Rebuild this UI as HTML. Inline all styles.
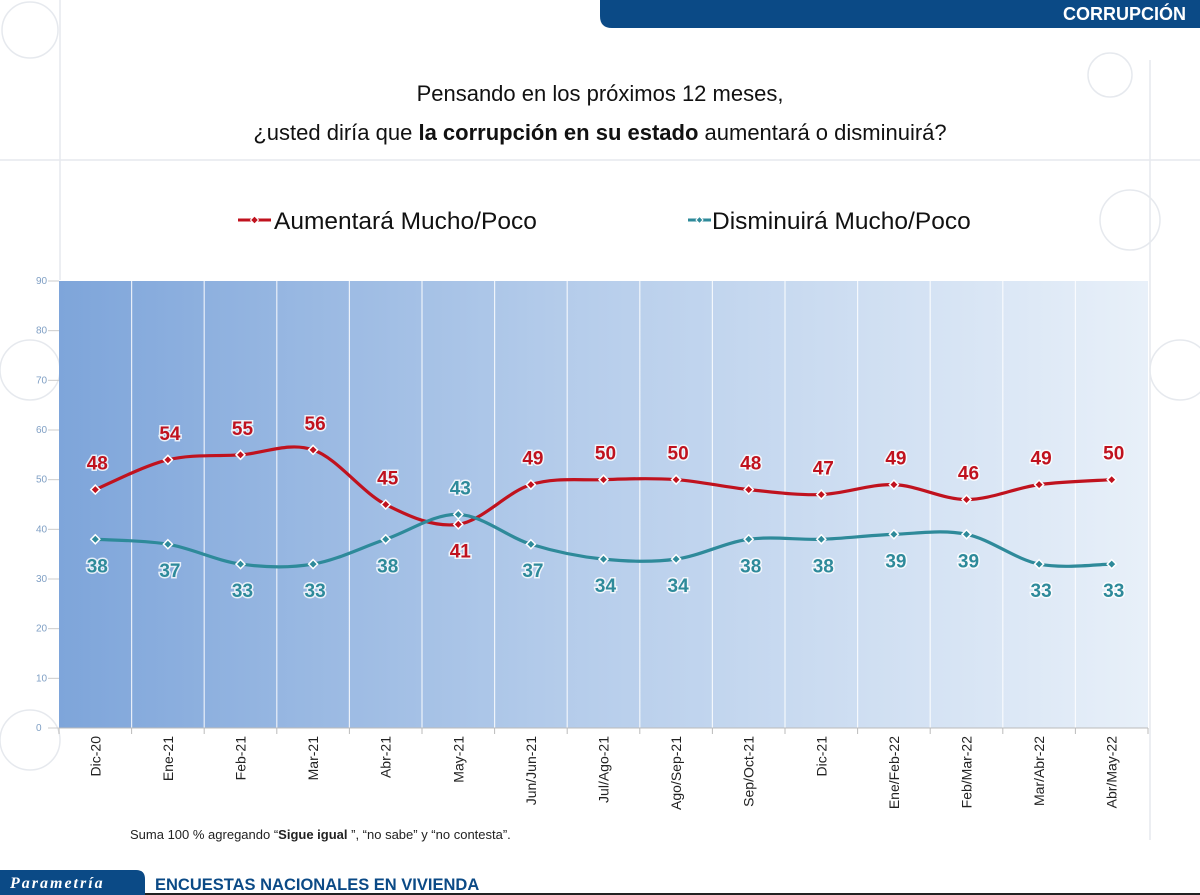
<!DOCTYPE html>
<html><head><meta charset="utf-8"><style>
body{margin:0;width:1200px;height:895px;overflow:hidden;background:#fff;font-family:"Liberation Sans",sans-serif;position:relative}
</style></head><body>
<svg id="s" width="1200" height="895" xmlns="http://www.w3.org/2000/svg" style="position:absolute;left:0;top:0">
<defs>
<linearGradient id="g" x1="0" x2="1" y1="0" y2="0">
<stop offset="0" stop-color="#7ea5da"/><stop offset="0.45" stop-color="#b3cbea"/><stop offset="1" stop-color="#e8f0f9"/>
</linearGradient>
</defs>
<g stroke="#e6e9ee" stroke-width="1.5" fill="none">
<circle cx="30" cy="30" r="28"/><circle cx="1110" cy="75" r="22"/><circle cx="30" cy="370" r="30"/><circle cx="1130" cy="220" r="30"/><circle cx="30" cy="740" r="30"/><circle cx="1180" cy="370" r="30"/>
<line x1="0" y1="160" x2="1200" y2="160"/><line x1="60" y1="0" x2="60" y2="280"/><line x1="1150" y1="60" x2="1150" y2="840"/>
</g>
<path d="M600 0 H1200 V28 H612 Q600 28 600 16 Z" fill="#0b4a86"/>
<text x="1186" y="20" text-anchor="end" fill="#fff" font-weight="bold" font-size="18">CORRUPCIÓN</text>
<text x="600" y="101" text-anchor="middle" font-size="22" fill="#111">Pensando en los próximos 12 meses,</text>
<text x="600" y="140" text-anchor="middle" font-size="22" fill="#111">¿usted diría que <tspan font-weight="bold">la corrupción en su estado</tspan> aumentará o disminuirá?</text>
<line x1="238" y1="220" x2="271" y2="220" stroke="#c0121e" stroke-width="3"/>
<path d="M254.5 216 L258.5 220 L254.5 224 L250.5 220Z" fill="#c0121e" stroke="#fff" stroke-width="1"/>
<text x="274" y="229" font-size="24.5" fill="#111">Aumentará Mucho/Poco</text>
<line x1="688" y1="220" x2="711" y2="220" stroke="#2e8a9a" stroke-width="3"/>
<path d="M699.5 216.5 L703 220 L699.5 223.5 L696 220Z" fill="#2e8a9a" stroke="#fff" stroke-width="1"/>
<text x="712" y="229" font-size="24.5" fill="#111">Disminuirá Mucho/Poco</text>
<rect x="59" y="281" width="1089" height="447" fill="url(#g)"/>
<g id="grid"></g>
<g id="yl" font-size="10" fill="#7f9fc4"></g>
<g id="xl" font-size="14" fill="#222"></g>
<g id="ser"></g>
<text x="130" y="839" font-size="13" fill="#222">Suma 100 %  agregando “<tspan font-weight="bold">Sigue igual</tspan> ”, “no sabe” y “no contesta”.</text>
<path d="M0 870 H136 Q145 870 145 879 V895 H0Z" fill="#0b4a86"/>
<text x="10" y="888" font-family="Liberation Serif,serif" font-style="italic" font-weight="bold" font-size="16" fill="#fff" letter-spacing="2">Parametría</text>
<text x="155" y="890" font-size="16.5" font-weight="bold" fill="#0b4a86">ENCUESTAS NACIONALES EN VIVIENDA</text>
<line x1="145" y1="894" x2="1200" y2="894" stroke="#222" stroke-width="2"/>
</svg>
<script>
const NS="http://www.w3.org/2000/svg";
function el(p,t,a,txt){const e=document.createElementNS(NS,t);for(const k in a)e.setAttribute(k,a[k]);if(txt!=null)e.textContent=txt;p.appendChild(e);return e;}
const L=59,R=1148,T=281,B=728,n=15,w=(R-L)/n;
const Y=v=>B-v*(B-T)/90, X=i=>L+w*(i+0.5);
const grid=document.getElementById('grid');
for(let i=1;i<n;i++)el(grid,'line',{x1:L+w*i,x2:L+w*i,y1:T,y2:B,stroke:'#fff','stroke-opacity':0.8,'stroke-width':1.2});
for(let i=0;i<=n;i++)el(grid,'line',{x1:L+w*i,x2:L+w*i,y1:B,y2:B+6,stroke:'#bbb'});
el(grid,'line',{x1:L,x2:R,y1:B,y2:B,stroke:'#bbb'});
const yl=document.getElementById('yl');
for(let v=0;v<=90;v+=10){el(yl,'text',{x:36,y:Y(v)+3},v);el(yl,'line',{x1:48,x2:59,y1:Y(v),y2:Y(v),stroke:'#ccc'});}
const cats=["Dic-20","Ene-21","Feb-21","Mar-21","Abr-21","May-21","Jun/Jun-21","Jul/Ago-21","Ago/Sep-21","Sep/Oct-21","Dic-21","Ene/Feb-22","Feb/Mar-22","Mar/Abr-22","Abr/May-22"];
const xl=document.getElementById('xl');
cats.forEach((c,i)=>el(xl,'text',{transform:`translate(${X(i)+5},736) rotate(-90)`,'text-anchor':'end'},c));
const red=[48,54,55,56,45,41,49,50,50,48,47,49,46,49,50];
const teal=[38,37,33,33,38,43,37,34,34,38,38,39,39,33,33];
const ser=document.getElementById('ser');
function path(d){const p=d.map((v,i)=>[X(i),Y(v)]);let s=`M${p[0][0]},${p[0][1]}`;
for(let i=0;i<p.length-1;i++){const p0=p[i-1]||p[i],p1=p[i],p2=p[i+1],p3=p[i+2]||p2;const k=1/6;
s+=` C${p1[0]+(p2[0]-p0[0])*k},${p1[1]+(p2[1]-p0[1])*k} ${p2[0]-(p3[0]-p1[0])*k},${p2[1]-(p3[1]-p1[1])*k} ${p2[0]},${p2[1]}`;}return s;}
function draw(d,col,above){el(ser,'path',{d:path(d),fill:'none',stroke:col,'stroke-width':3.2});
d.forEach((v,i)=>{const x=X(i),y=Y(v);el(ser,'path',{d:`M${x} ${y-4.5}L${x+4.5} ${y}L${x} ${y+4.5}L${x-4.5} ${y}Z`,fill:col,stroke:'#fff','stroke-width':1.5});
const up=above(i);el(ser,'text',{x:x+2,y:up?y-20:y+33,'text-anchor':'middle','font-size':19,'font-weight':'bold',fill:col,stroke:'#fff','stroke-width':3,'paint-order':'stroke','stroke-opacity':0.8},v);});}
draw(red,'#c0121e',i=>i!==5);
draw(teal,'#2e8a9a',i=>i===5);
</script>
</body></html>
